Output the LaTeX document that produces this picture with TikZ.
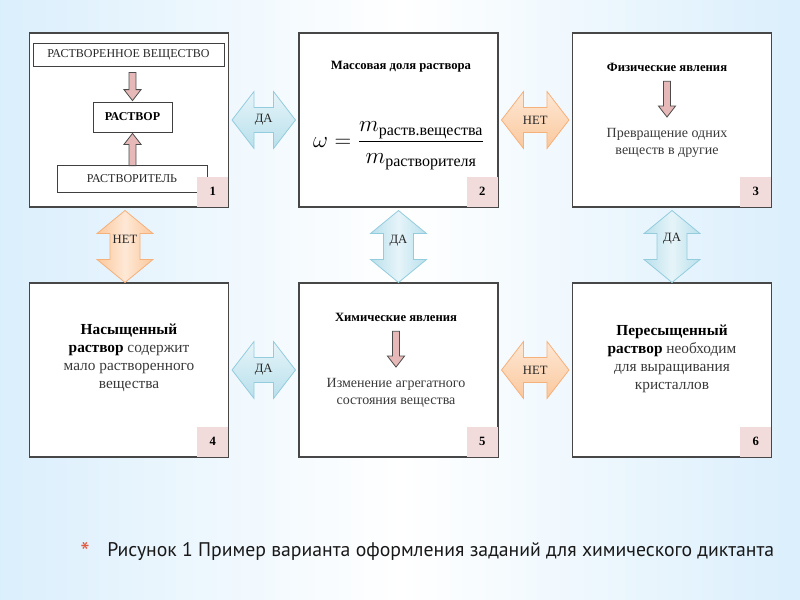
\documentclass[tikz,border=0pt]{standalone}
\usepackage{fontspec}
\usepackage{amsmath}
\setmainfont{Liberation Serif}
\newfontfamily\capfont{PT Sans}
\usetikzlibrary{calc}
\definecolor{bgblue}{HTML}{9FD2F7}
\definecolor{bgmid}{HTML}{D9EEFC}
\definecolor{badgec}{HTML}{F2DCDB}
\definecolor{pinkf}{HTML}{E6B9B8}
\definecolor{bluetop}{HTML}{E6F4F9}
\definecolor{bluebot}{HTML}{B9E0EC}
\definecolor{blueline}{HTML}{93CCDD}
\definecolor{peachtop}{HTML}{FEE8D6}
\definecolor{peachbot}{HTML}{FAC89C}
\definecolor{peachline}{HTML}{F6B07A}
\definecolor{bodytxt}{HTML}{3A3A3A}
\definecolor{starc}{HTML}{E2583E}
\pgfdeclarehorizontalshading{bgshade}{100bp}{color(0bp)=(bgblue); color(24bp)=(bgmid); color(50bp)=(white); color(76bp)=(bgmid); color(100bp)=(bgblue)}
\newcommand\pinkdown[2]{\draw[pinkarrow] let \p1=(#1), \p2=(#2) in
  (\x2-2.6pt,\y1) -- (\x2+2.6pt,\y1) -- (\x2+2.6pt,\y2+8.25pt) -- (\x2+6.4pt,\y2+8.25pt)
  -- (\x2,\y2) -- (\x2-6.4pt,\y2+8.25pt) -- (\x2-2.6pt,\y2+8.25pt) -- cycle;}
\newcommand\pinkup[2]{\draw[pinkarrow] let \p1=(#1), \p2=(#2) in
  (\x2-2.6pt,\y1) -- (\x2+2.6pt,\y1) -- (\x2+2.6pt,\y2-8.25pt) -- (\x2+6.4pt,\y2-8.25pt)
  -- (\x2,\y2) -- (\x2-6.4pt,\y2-8.25pt) -- (\x2-2.6pt,\y2-8.25pt) -- cycle;}
\newcommand\hdarrow[3]{\draw[#1] let \p1=(#2), \p2=(#3) in
  (\x1,\y1) -- (\x1+16.5pt,\y1+21.4pt) -- (\x1+16.5pt,\y1+9.4pt) -- (\x2-16.5pt,\y1+9.4pt)
  -- (\x2-16.5pt,\y1+21.4pt) -- (\x2,\y1) -- (\x2-16.5pt,\y1-21.4pt) -- (\x2-16.5pt,\y1-9.4pt)
  -- (\x1+16.5pt,\y1-9.4pt) -- (\x1+16.5pt,\y1-21.4pt) -- cycle;}
\newcommand\vdarrow[3]{\draw[#1] let \p1=(#2), \p2=(#3) in
  (\x1,\y1) -- (\x1+21pt,\y1-17.25pt) -- (\x1+11.25pt,\y1-17.25pt) -- (\x1+11.25pt,\y2+17.25pt)
  -- (\x1+21pt,\y2+17.25pt) -- (\x1,\y2) -- (\x1-21pt,\y2+17.25pt) -- (\x1-11.25pt,\y2+17.25pt)
  -- (\x1-11.25pt,\y1-17.25pt) -- (\x1-21pt,\y1-17.25pt) -- cycle;}
\tikzset{
  bigbox/.style={draw=black!72, line width=0.8pt, fill=white, minimum width=149.25pt, minimum height=130.5pt, inner sep=0pt},
  badge/.style={fill=badgec, minimum width=23.25pt, minimum height=22.5pt, inner sep=0pt, font=\bfseries\fontsize{9.5}{11}\selectfont, anchor=south east},
  innerbox/.style={draw=black!75, line width=0.6pt, fill=white, inner sep=0pt, font=\fontsize{9}{11}\selectfont, text=black!85},
  pinkarrow/.style={draw=black!70, line width=0.6pt, fill=pinkf},
  bluearrow/.style={draw=blueline, line width=0.6pt, top color=bluetop, bottom color=bluebot},
  peacharrow/.style={draw=peachline, line width=0.6pt, top color=peachtop, bottom color=peachbot},
  bluevarrow/.style={draw=blueline, line width=0.6pt, left color=bluebot, right color=bluebot, middle color=bluetop},
  peachvarrow/.style={draw=peachline, line width=0.6pt, left color=peachbot, right color=peachbot, middle color=peachtop},
  arrlabel/.style={font=\fontsize{9.5}{11}\selectfont, text=black!85, inner sep=1pt},
  ttl/.style={font=\bfseries\fontsize{9.5}{11}\selectfont, text=black},
  body/.style={font=\fontsize{10.5}{12.75}\selectfont, text=bodytxt, align=center},
  bigbody/.style={font=\fontsize{11.5}{13.5}\selectfont, text=bodytxt, align=center}
}
\newcommand\subtxt[1]{\mbox{\fontsize{12}{12}\selectfont #1}}
\begin{document}
\begin{tikzpicture}[x=0.75pt,y=-0.75pt]
\shade[shading=bgshade] (0,0) rectangle (800,600);
\useasboundingbox (0,0) rectangle (800,600);

% big boxes
\node[bigbox] (b1) at (129,120) {};
\node[bigbox] (b2) at (398.5,120) {};
\node[bigbox] (b3) at (672,120) {};
\node[bigbox] (b4) at (129,370) {};
\node[bigbox] (b5) at (398.5,370) {};
\node[bigbox] (b6) at (672,370) {};

% box 1 content
\node[innerbox, minimum width=143.25pt, minimum height=17.25pt] (rv) at (128.5,54.5) {РАСТВОРЕННОЕ ВЕЩЕСТВО};
\node[innerbox, minimum width=59.25pt, minimum height=22.5pt, font=\bfseries\fontsize{9}{11}\selectfont, text=black] (r) at (132.5,117) {РАСТВОР};
\node[innerbox, minimum width=112.5pt, minimum height=20.25pt] (rr) at (132,178.5) {РАСТВОРИТЕЛЬ};
\pinkdown{[yshift=-4.5pt]rv.south}{[yshift=0.75pt]r.north}
\pinkup{[yshift=-0.75pt]rr.north}{[yshift=-0.75pt]r.south}

% box 2 content
\node[ttl] (t2) at (401,67) {Массовая доля раствора};
\node[font=\fontsize{16.5}{19}\selectfont] (f2) at (399,146) {$\omega=\dfrac{m_{\subtxt{раств.вещества}}}{m_{\subtxt{растворителя}}}$};

% box 3 content
\node[ttl] (t3) at (667,67) {Физические явления};
\node[body] (d3) at (667,143) {Превращение одних\\веществ в другие};
\pinkdown{[yshift=-4pt]t3.south}{[yshift=5pt]d3.north}

% box 4 content
\node[bigbody] (d4) at (129,358) {\textbf{\textcolor{black}{Насыщенный}}\\\textbf{\textcolor{black}{раствор}} содержит\\мало растворенного\\вещества};

% box 5 content
\node[ttl] (t5) at (396,317) {Химические явления};
\node[body] (d5) at (396,393) {Изменение агрегатного\\состояния вещества};
\pinkdown{[yshift=-4pt]t5.south}{[yshift=5pt]d5.north}

% box 6 content
\node[bigbody] (d6) at (672,359) {\textbf{\textcolor{black}{Пересыщенный}}\\\textbf{\textcolor{black}{раствор}} необходим\\для выращивания\\кристаллов};

% badges
\node[badge] (n1) at ([shift={(-0.4pt,0.4pt)}]b1.south east) {1};
\node[badge] (n2) at ([shift={(-0.4pt,0.4pt)}]b2.south east) {2};
\node[badge] (n3) at ([shift={(-0.4pt,0.4pt)}]b3.south east) {3};
\node[badge] (n4) at ([shift={(-0.4pt,0.4pt)}]b4.south east) {4};
\node[badge] (n5) at ([shift={(-0.4pt,0.4pt)}]b5.south east) {5};
\node[badge] (n6) at ([shift={(-0.4pt,0.4pt)}]b6.south east) {6};

% block double arrows
\hdarrow{bluearrow}{[xshift=2.25pt]b1.east}{[xshift=-2.25pt]b2.west}
\hdarrow{peacharrow}{[xshift=2.25pt]b2.east}{[xshift=-2.25pt]b3.west}
\hdarrow{bluearrow}{[xshift=2.25pt]b4.east}{[xshift=-2.25pt]b5.west}
\hdarrow{peacharrow}{[xshift=2.25pt]b5.east}{[xshift=-2.25pt]b6.west}
\vdarrow{peachvarrow}{[yshift=-2.25pt,xshift=-3pt]b1.south}{[xshift=-3pt]b4.north}
\vdarrow{bluevarrow}{[yshift=-2.25pt]b2.south}{b5.north}
\vdarrow{bluevarrow}{[yshift=-2.25pt]b3.south}{b6.north}

\path (b1.east) -- (b2.west) node[arrlabel, midway] {ДА};
\path (b2.east) -- (b3.west) node[arrlabel, midway] {НЕТ};
\path (b4.east) -- (b5.west) node[arrlabel, midway] {ДА};
\path (b5.east) -- (b6.west) node[arrlabel, midway] {НЕТ};
\path ([xshift=-3pt]b1.south) -- ([xshift=-3pt]b4.north) node[arrlabel, pos=0.42] {НЕТ};
\path (b2.south) -- (b5.north) node[arrlabel, pos=0.44] {ДА};
\path (b3.south) -- (b6.north) node[arrlabel, pos=0.42] {ДА};

% caption
\node[font=\capfont\fontsize{20}{20}\selectfont, text=starc] (star) at (85,552) {*};
\node[font=\capfont\fontsize{14.8}{17}\selectfont, text=black!90, anchor=west, inner sep=0pt] (cap) at (107,551) {Рисунок 1 Пример варианта оформления заданий для химического диктанта};
\end{tikzpicture}
\end{document}
